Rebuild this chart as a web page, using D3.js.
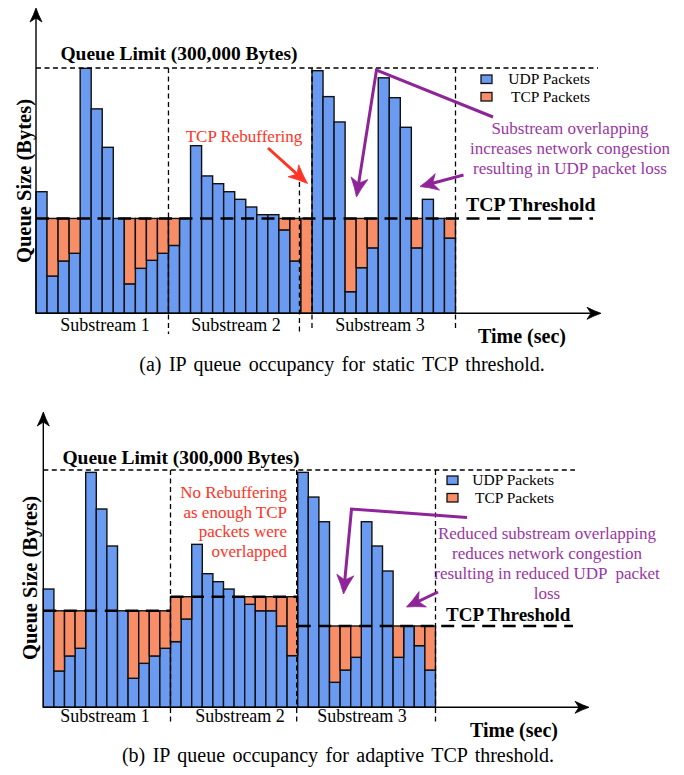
<!DOCTYPE html>
<html><head><meta charset="utf-8">
<script src="https://cdn.jsdelivr.net/npm/d3@7"></script>
<style>
body{margin:0;background:#fff}
svg{display:block}
text{font-family:"Liberation Serif","Times New Roman",serif}
</style>
</head><body>
<script>
// ---------------- DATA (bytes) ----------------
// Panel (a): static TCP threshold
const udpA = [148700, 45600, 64000, 73400, 299600, 250000, 203000, 116000, 36000, 55000, 64800, 73400,
              83000, 116000, 205000, 168000, 158500, 148700, 139400, 130000, 120600, 120600, 102000, 64000,
              0,
              296700, 265000, 234000, 26400, 55800, 80000, 288000, 263700, 227500, 80000, 139400, 116000, 92000];
const tcpA = [0, 70400, 52000, 42600, 0, 0, 0, 0, 80000, 61000, 51200, 42600,
              33000, 0, 0, 0, 0, 0, 0, 0, 0, 0, 14000, 52000,
              116000,
              0, 0, 0, 89600, 60200, 36000, 0, 0, 0, 36000, 0, 0, 24000];
const thresholdA = [116000];
const boundariesA = [0, 12, 24, 25, 38];

// Panel (b): adaptive TCP threshold
const udpB = [149500, 45900, 64900, 74600, 297000, 250700, 203900, 122000, 36700, 55600, 64900, 74600,
              83000, 111600, 206000, 168900, 158800, 149500, 139800, 130200, 122000, 122000, 102800, 65300,
              297000, 265800, 234600, 31600, 47100, 63200, 234600, 203900, 172300, 63200, 102800, 77900, 47100];
const tcpB = [0, 76100, 57100, 47400, 0, 0, 0, 0, 85300, 66400, 57100, 47400,
              56800, 28200, 0, 0, 0, 0, 0, 9600, 17800, 17800, 37000, 74500,
              0, 0, 0, 71200, 55700, 39600, 0, 0, 0, 39600, 0, 24900, 55700];
const thresholdsB = [122000, 139800, 102800];
const boundariesB = [0, 12, 24, 37];

const queueLimit = 300000;
const substreamLabels = ["Substream 1", "Substream 2", "Substream 3"];
const legendLabels = ["UDP Packets", "TCP Packets"];
const annotA = ["Substream overlapping", "increases network congestion", "resulting in UDP packet loss"];
const annotB = ["Reduced substream overlapping", "reduces network congestion", "resulting in reduced UDP  packet", "loss"];
const rebufA = ["TCP Rebuffering"];
const rebufB = ["No Rebuffering", "as enough TCP", "packets were", "overlapped"];
const captionA = "(a) IP queue occupancy for static TCP threshold.";
const captionB = "(b) IP queue occupancy for adaptive TCP threshold.";

// ---------------- STYLE ----------------
const BLUE = "#6a9bf0", ORANGE = "#f88e67", PURPLE = "#9a36a4", PURPLE_L = "#8e2498", RED = "#ff3326";

const svg = d3.select("body").append("svg").attr("width", 684).attr("height", 775);

function arrowHead(g, tip, from, L, Wd, notch, color) {
  const ang = Math.atan2(tip[1] - from[1], tip[0] - from[0]);
  const ux = Math.cos(ang), uy = Math.sin(ang), px = -uy, py = ux;
  const bx = tip[0] - ux * L, by = tip[1] - uy * L;
  const nx = tip[0] - ux * (L - notch), ny = tip[1] - uy * (L - notch);
  const p1 = [bx + px * Wd, by + py * Wd], p2 = [bx - px * Wd, by - py * Wd];
  const c1 = [tip[0] - ux * L * 0.45 + px * Wd * 0.35, tip[1] - uy * L * 0.45 + py * Wd * 0.35];
  const c2 = [tip[0] - ux * L * 0.45 - px * Wd * 0.35, tip[1] - uy * L * 0.45 - py * Wd * 0.35];
  const d = `M${tip[0]},${tip[1]} Q${c1[0]},${c1[1]} ${p1[0]},${p1[1]} L${nx},${ny} L${p2[0]},${p2[1]} Q${c2[0]},${c2[1]} ${tip[0]},${tip[1]}Z`;
  g.append("path").attr("d", d).attr("fill", color).attr("stroke", color).attr("stroke-width", 0.8).attr("stroke-linejoin", "round");
  return [nx + ux * 1, ny + uy * 1];
}

function arrowLine(g, pts, L, Wd, notch, color, sw) {
  const tip = pts[pts.length - 1], from = pts[pts.length - 2];
  const end = arrowHead(g, tip, from, L, Wd, notch, color);
  const linePts = pts.slice(0, -1).concat([end]);
  g.append("path").attr("d", d3.line()(linePts)).attr("fill", "none").attr("stroke", color)
    .attr("stroke-width", sw).attr("stroke-linejoin", "miter");
}

function drawPanel(cfg) {
  const g = svg.append("g");
  const n = cfg.udp.length;
  const x = d3.scaleBand().domain(d3.range(n)).range([cfg.xL, cfg.xR]).padding(0);
  const y = d3.scaleLinear().domain([0, queueLimit]).range([cfg.yB, cfg.yL]);

  // bars
  const bars = g.append("g");
  cfg.udp.forEach((v, i) => {
    if (v > 0) bars.append("rect").attr("x", x(i)).attr("width", x.bandwidth())
      .attr("y", y(v)).attr("height", y(0) - y(v))
      .attr("fill", BLUE).attr("stroke", "#111").attr("stroke-width", 1.4);
  });
  cfg.tcp.forEach((v, i) => {
    if (v > 0) {
      const base = cfg.udp[i];
      bars.append("rect").attr("x", x(i)).attr("width", x.bandwidth())
        .attr("y", y(base + v)).attr("height", y(base) - y(base + v))
        .attr("fill", ORANGE).attr("stroke", "#111").attr("stroke-width", 1.4);
    }
  });

  // queue limit dashed line + substream boundaries
  g.append("line").attr("x1", cfg.xL).attr("x2", cfg.limitEnd).attr("y1", y(queueLimit)).attr("y2", y(queueLimit))
    .attr("stroke", "#000").attr("stroke-width", 1.3).attr("stroke-dasharray", "5,3.5");
  cfg.vlines.forEach(v => {
    const xx = x(v.i) !== undefined ? x(v.i) : cfg.xR;
    g.append("line").attr("x1", xx + (v.dx || 0)).attr("x2", xx + (v.dx || 0))
      .attr("y1", v.top !== undefined ? v.top : y(queueLimit)).attr("y2", v.bottom)
      .attr("stroke", "#000").attr("stroke-width", 1.3).attr("stroke-dasharray", "5,3.5");
  });

  // thresholds
  cfg.thr.forEach(t => {
    const x1 = x(t.from);
    const x2 = t.toX !== undefined ? t.toX : (x(t.to) !== undefined ? x(t.to) : cfg.xR);
    g.append("line").attr("x1", x1).attr("x2", x2)
      .attr("y1", y(t.v)).attr("y2", y(t.v))
      .attr("stroke", "#000").attr("stroke-width", 2.6).attr("stroke-dasharray", "13,7.5");
  });

  // axes
  g.append("line").attr("x1", cfg.xL).attr("x2", cfg.xL).attr("y1", y(0)).attr("y2", cfg.yTip + 8)
    .attr("stroke", "#000").attr("stroke-width", 1.4);
  arrowHead(g, [cfg.xL, cfg.yTip], [cfg.xL, y(0)], 14, 6, 4, "#000");
  g.append("line").attr("x1", cfg.xL).attr("x2", cfg.xTip - 8).attr("y1", y(0)).attr("y2", y(0))
    .attr("stroke", "#000").attr("stroke-width", 1.4);
  arrowHead(g, [cfg.xTip, y(0)], [cfg.xL, y(0)], 14, 6, 4, "#000");

  // titles and labels
  g.append("text").attr("x", cfg.titleX).attr("y", cfg.titleY).attr("text-anchor", "middle")
    .attr("font-size", 19.5).attr("font-weight", "bold").text("Queue Limit (300,000 Bytes)");
  g.append("text").attr("transform", `translate(${cfg.ylabX},${cfg.ylabY}) rotate(-90)`)
    .attr("text-anchor", "middle").attr("dominant-baseline", "central")
    .attr("font-size", 20.5).attr("font-weight", "bold").text("Queue Size (Bytes)");
  substreamLabels.forEach((s, k) => {
    g.append("text").attr("x", cfg.subX[k]).attr("y", cfg.subY).attr("text-anchor", "middle")
      .attr("font-size", 18).text(s);
  });
  g.append("text").attr("x", cfg.timeX).attr("y", cfg.timeY).attr("font-size", 20).attr("font-weight", "bold").text("Time (sec)");
  g.append("text").attr("x", cfg.thrLabX).attr("y", cfg.thrLabY).attr("font-size", cfg.thrLabSize).attr("font-weight", "bold").text("TCP Threshold");
  g.append("text").attr("y", cfg.capY).attr("text-anchor", "middle").attr("x", cfg.capX)
    .attr("font-size", 20).attr("word-spacing", 2.5).text(cfg.caption);

  // legend
  [BLUE, ORANGE].forEach((c, k) => {
    g.append("rect").attr("x", cfg.legX).attr("y", cfg.legY + k * 17.5).attr("width", 11).attr("height", 8.5)
      .attr("fill", c).attr("stroke", "#111").attr("stroke-width", 1.3);
    g.append("text").attr("x", cfg.legTX).attr("y", cfg.legY + 9 + k * 17.5).attr("text-anchor", "end")
      .attr("font-size", 15.5).text(legendLabels[k]);
  });

  // annotations
  cfg.annot.forEach((s, k) => {
    g.append("text").attr("x", cfg.annX).attr("y", cfg.annY + k * 20).attr("text-anchor", "middle")
      .attr("font-size", 17).attr("fill", PURPLE).style("white-space", "pre").text(s);
  });
  cfg.rebuf.forEach((s, k) => {
    g.append("text").attr("x", cfg.rebX).attr("y", cfg.rebY + k * 19.6).attr("text-anchor", cfg.rebAnchor)
      .attr("font-size", 17).attr("fill", RED).text(s);
  });
  cfg.arrows.forEach(a => arrowLine(g, a.pts, a.L, a.W, a.notch, a.color, a.sw));
}

drawPanel({
  udp: udpA, tcp: tcpA, xL: 36, xR: 455.5, yB: 313.3, yL: 68, yTip: 8, xTip: 601, limitEnd: 598,
  vlines: [{i: 12, bottom: 334}, {i: 24, dx: -1.5, top: 182, bottom: 334}, {i: 25, bottom: 331}, {i: 38, bottom: 331}],
  thr: [{from: 0, toX: 593, v: thresholdA[0]}],
  titleX: 179, titleY: 60, ylabX: 24, ylabY: 181,
  subX: [105, 236, 380], subY: 331, timeX: 478, timeY: 343,
  thrLabX: 466, thrLabY: 211, thrLabSize: 19.8, capX: 342, capY: 371, caption: captionA,
  legX: 481, legY: 75, legTX: 590,
  annot: annotA, annX: 570, annY: 134,
  rebuf: rebufA, rebX: 244, rebY: 142, rebAnchor: "middle",
  arrows: [
    {pts: [[268, 148], [307.5, 183.5]], L: 19, W: 8, notch: 5, color: RED, sw: 3},
    {pts: [[493, 117], [376.5, 70], [356.5, 197]], L: 19, W: 8.5, notch: 5, color: PURPLE_L, sw: 3},
    {pts: [[463.5, 175], [420, 186.5]], L: 18, W: 8.5, notch: 5, color: PURPLE_L, sw: 3}
  ]
});

drawPanel({
  udp: udpB, tcp: tcpB, xL: 43.3, xR: 435.5, yB: 707.3, yL: 470, yTip: 412, xTip: 589, limitEnd: 575,
  vlines: [{i: 12, bottom: 724}, {i: 24, dx: -1, bottom: 724}, {i: 37, bottom: 724}],
  thr: [{from: 0, to: 12, v: thresholdsB[0]}, {from: 12, to: 24, v: thresholdsB[1]}, {from: 24, toX: 573, v: thresholdsB[2]}],
  titleX: 181, titleY: 464, ylabX: 30, ylabY: 578,
  subX: [105, 240, 362], subY: 722, timeX: 470, timeY: 737,
  thrLabX: 446, thrLabY: 621, thrLabSize: 19, capX: 338, capY: 762, caption: captionB,
  legX: 447, legY: 476, legTX: 554,
  annot: annotB, annX: 547, annY: 539,
  rebuf: rebufB, rebX: 287, rebY: 498, rebAnchor: "end",
  arrows: [
    {pts: [[467, 517.5], [351.5, 509], [343.5, 594]], L: 19, W: 8.5, notch: 5, color: PURPLE_L, sw: 3},
    {pts: [[438, 592], [406.5, 607]], L: 18, W: 8.5, notch: 5, color: PURPLE_L, sw: 3}
  ]
});
</script>
</body></html>
